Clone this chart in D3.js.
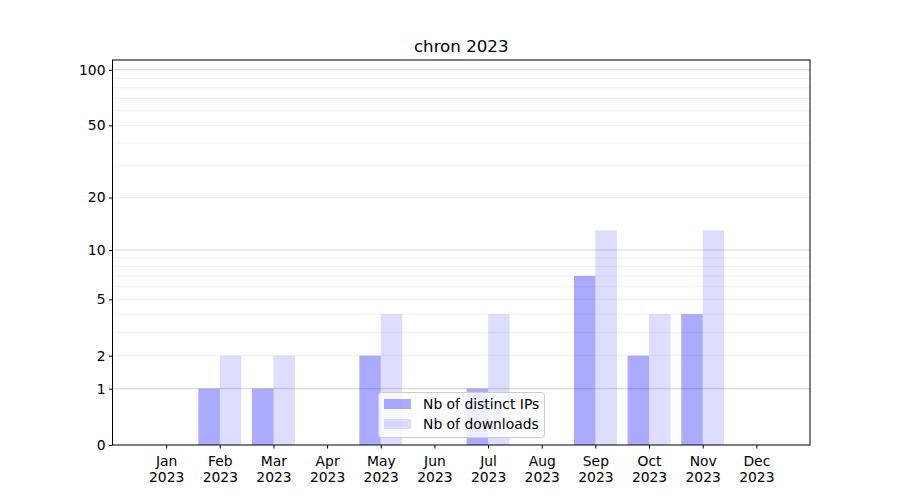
<!DOCTYPE html>
<html><head><meta charset="utf-8">
<script src="https://cdn.jsdelivr.net/npm/d3@7"></script>
<style>body{margin:0;background:#fff}svg{font-family:"DejaVu Sans",sans-serif}</style>
</head><body><svg id="c" width="900" height="500"></svg>
<script>
const months = ["Jan","Feb","Mar","Apr","May","Jun","Jul","Aug","Sep","Oct","Nov","Dec"];
const yearLabel = "2023";
const distinctIPs = [0,1,1,0,2,0,1,0,7,2,4,0];
const downloads = [0,2,2,0,4,0,4,0,13,4,13,0];
const yTicks = [0,1,2,5,10,20,50,100];
const majorGrid = [1,10,100];
const minorGrid = [2,3,4,5,6,7,8,9,20,30,40,50,60,70,80,90];
const title = "chron 2023";
const seriesNames = ["Nb of distinct IPs","Nb of downloads"];

const FS = "13.89px";
const svg = d3.select("#c");
const L=112.5,R=810,T=60,B=445;
const x = d3.scaleLinear().domain([-1,12]).range([L,R]);
const y = d3.scaleSymlog().constant(1).domain([0,113]).range([B,T]);

svg.append("g").selectAll("line").data(minorGrid).join("line")
  .attr("x1",L).attr("x2",R).attr("y1",d=>y(d)).attr("y2",d=>y(d))
  .attr("stroke","#ebebeb").attr("stroke-width",0.8);
svg.append("g").selectAll("line").data(majorGrid).join("line")
  .attr("x1",L).attr("x2",R).attr("y1",d=>y(d)).attr("y2",d=>y(d))
  .attr("stroke","#c8c8c8").attr("stroke-width",0.8);

const bw = 0.4;
svg.append("g").selectAll("rect").data(distinctIPs).join("rect")
  .attr("x",(d,i)=>x(i-bw)).attr("width",x(bw)-x(0))
  .attr("y",d=>y(d)).attr("height",d=>B-y(d))
  .attr("fill","#0000ff").attr("fill-opacity",0.333);
svg.append("g").selectAll("rect").data(downloads).join("rect")
  .attr("x",(d,i)=>x(i)).attr("width",x(bw)-x(0))
  .attr("y",d=>y(d)).attr("height",d=>B-y(d))
  .attr("fill","#0000ff").attr("fill-opacity",0.133);

svg.append("rect").attr("x",L).attr("y",T).attr("width",R-L).attr("height",B-T)
  .attr("fill","none").attr("stroke","#000").attr("stroke-width",1);

const ya = svg.append("g").attr("transform",`translate(${L},0)`)
  .call(d3.axisLeft(y).tickValues(yTicks).tickFormat(d3.format("d")).tickSize(3.5).tickPadding(3.5));
ya.select(".domain").remove();
ya.selectAll("text").attr("font-size",FS).attr("fill","#000").attr("font-family","DejaVu Sans");

const xa = svg.append("g").attr("transform",`translate(0,${B})`)
  .call(d3.axisBottom(x).tickValues(d3.range(12)).tickFormat(()=>"").tickSize(3.5));
xa.select(".domain").remove();
xa.selectAll(".tick").each(function(d){
  const t=d3.select(this).append("text").attr("fill","#000").attr("font-size",FS)
    .attr("text-anchor","middle").attr("font-family","DejaVu Sans");
  t.append("tspan").attr("x",0).attr("y",21).text(months[d]);
  t.append("tspan").attr("x",0).attr("y",37).text(yearLabel);
});

svg.append("text").attr("x",(L+R)/2).attr("y",52).attr("text-anchor","middle")
  .attr("font-size","16.67px").attr("fill","#000").text(title);

const lg = svg.append("g");
lg.append("rect").attr("x",378.5).attr("y",392.5).attr("width",166).attr("height",45).attr("rx",3)
  .attr("fill","#fff").attr("fill-opacity",0.8).attr("stroke","#cccccc");
const ops=[0.333,0.133];
seriesNames.forEach((n,i)=>{
  const cy = 404 + i*20;
  lg.append("rect").attr("x",384).attr("y",cy-5).attr("width",27).attr("height",10)
    .attr("fill","#0000ff").attr("fill-opacity",ops[i]);
  lg.append("text").attr("x",423).attr("y",cy+5).attr("font-size",FS).attr("fill","#000").text(n);
});
</script></body></html>
